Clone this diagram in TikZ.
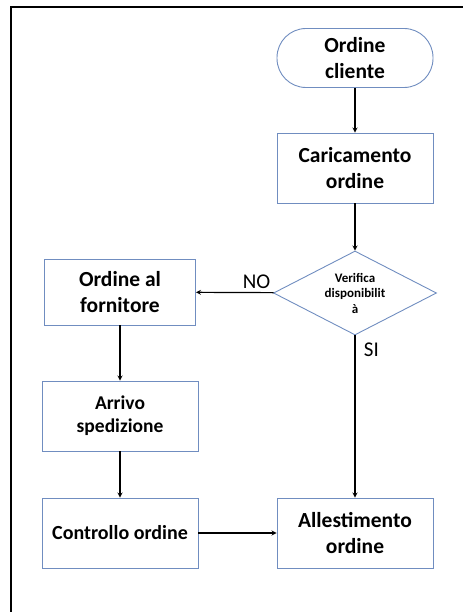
\documentclass[tikz,border=0pt]{standalone}
\usepackage{fontspec}
\setmainfont{Carlito}
\usetikzlibrary{shapes.geometric}
\definecolor{boxblue}{RGB}{112,141,192}
\tikzset{
  procbox/.style={draw=boxblue,line width=0.9pt,fill=white,align=center,inner sep=2pt,
    font=\bfseries\fontsize{21.5}{26}\selectfont,minimum width=156pt,minimum height=70pt},
  termbox/.style={procbox,rounded corners=29pt,minimum height=59pt},
  decbox/.style={diamond,draw=boxblue,line width=0.9pt,align=center,inner sep=0pt,aspect=1.94,
    font=\bfseries\fontsize{13}{15.5}\selectfont,minimum width=163pt,minimum height=84pt},
  flow/.style={->,line width=1.2pt},
  answer/.style={font=\fontsize{21}{22}\selectfont}
}
\begin{document}
\begin{tikzpicture}[>=stealth,x=1pt,y=-1pt]
  \useasboundingbox (0,0) rectangle (466,612);
  \draw[line width=1.5pt] (11,612) -- (11,7) -- (463,7);
  % main column
  \node[termbox] (cliente) at (355,58) {Ordine\\cliente};
  \node[procbox] (carico) at (355,168) {Caricamento\\ordine};
  \node[decbox] (verifica) at (355,293) {Verifica\\disponibilit\\à};
  \node[procbox] (allest) at (355,533) {Allestimento\\ordine};
  % supplier column
  \node[procbox,minimum width=151pt,minimum height=66pt] (fornitore) at (120,292) {Ordine al\\fornitore};
  \node[procbox,font=\bfseries\fontsize{19.5}{23}\selectfont] (arrivo) at (120,416) {Arrivo\\spedizione};
  \node[procbox,font=\bfseries\fontsize{20}{24}\selectfont] (controllo) at (120,533) {Controllo ordine};
  % connectors
  \draw[flow] (cliente) -- (carico);
  \draw[flow] (carico) -- (verifica);
  \draw[flow] (verifica) -- node[answer,pos=0.22,above] {NO} (fornitore);
  \draw[flow] (verifica) -- node[answer,pos=0.09,right,xshift=5pt] {SI} (allest);
  \draw[flow] (fornitore) -- (arrivo);
  \draw[flow] (arrivo) -- (controllo);
  \draw[flow] (controllo) -- (allest);
\end{tikzpicture}
\end{document}
